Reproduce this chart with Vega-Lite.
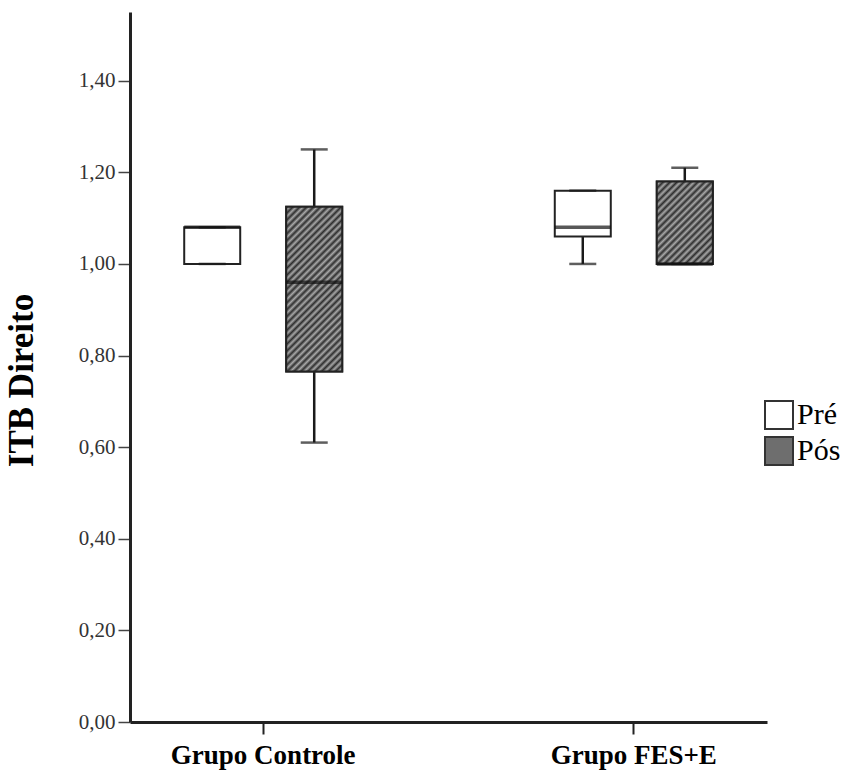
{
  "$schema": "https://vega.github.io/schema/vega-lite/v6.json",
  "width": 637,
  "height": 710,
  "autosize": {"type": "none"},
  "padding": {"left": 130, "top": 12, "right": 83, "bottom": 59},
  "background": "white",
  "config": {"view": {"stroke": null}, "axis": {"grid": false}},
  "data": {
    "values": [
      {"group": "Grupo Controle", "time": "Pré", "min": 1.00, "q1": 1.00, "median": 1.08, "q3": 1.08, "max": 1.08},
      {"group": "Grupo Controle", "time": "Pós", "min": 0.61, "q1": 0.765, "median": 0.96, "q3": 1.125, "max": 1.25},
      {"group": "Grupo FES+E", "time": "Pré", "min": 1.00, "q1": 1.06, "median": 1.08, "q3": 1.16, "max": 1.16},
      {"group": "Grupo FES+E", "time": "Pós", "min": 1.00, "q1": 1.00, "median": 1.00, "q3": 1.18, "max": 1.21}
    ]
  },
  "encoding": {
    "x": {
      "field": "group", "type": "nominal",
      "scale": {"domain": ["Grupo Controle", "Grupo FES+E"], "paddingInner": 0.281, "paddingOuter": 0},
      "axis": {
        "title": null, "labelAngle": 0, "labelLimit": 400,
        "labelFont": "Liberation Serif", "labelFontWeight": "bold", "labelFontSize": 27, "labelColor": "#000",
        "labelPadding": 8, "tickSize": 12, "tickWidth": 2, "tickColor": "#222",
        "domainColor": "#222", "domainWidth": 3
      }
    },
    "xOffset": {
      "field": "time", "type": "nominal",
      "scale": {"domain": ["Pré", "Pós"], "paddingInner": 0.451, "paddingOuter": 0.5315}
    }
  },
  "layer": [
    {
      "mark": {"type": "rule", "color": "#1a1a1a", "strokeWidth": 2.5},
      "encoding": {
        "y": {
          "field": "min", "type": "quantitative",
          "scale": {"domain": [0, 1.55], "nice": false, "zero": true},
          "axis": {
            "title": "ITB Direito",
            "values": [0, 0.2, 0.4, 0.6, 0.8, 1.0, 1.2, 1.4],
            "labelExpr": "replace(format(datum.value, '.2f'), '.', ',')",
            "labelFont": "Liberation Serif", "labelFontSize": 21, "labelColor": "#333",
            "labelPadding": 3, "tickSize": 12, "tickWidth": 1.5, "tickColor": "#444",
            "domainColor": "#222", "domainWidth": 3,
            "titleFont": "Liberation Serif", "titleFontWeight": "bold", "titleFontSize": 35, "titleColor": "#000",
            "titleAngle": -90, "titleX": -109, "titleY": 368, "titleAlign": "center", "titleBaseline": "middle"
          }
        },
        "y2": {"field": "max"}
      }
    },
    {
      "mark": {"type": "bar", "stroke": "#222", "strokeWidth": 2},
      "encoding": {
        "y": {"field": "q1", "type": "quantitative"},
        "y2": {"field": "q3"},
        "fill": {
          "field": "time", "type": "nominal",
          "scale": {"domain": ["Pré", "Pós"], "range": ["#ffffff", "#6e6e6e"]},
          "legend": {
            "title": null, "orient": "none", "legendX": 634, "legendY": 388, "padding": 0,
            "symbolType": "square", "symbolSize": 784, "symbolStrokeColor": "#333", "symbolStrokeWidth": 2,
            "labelFont": "Liberation Serif", "labelFontSize": 30, "labelColor": "#000",
            "labelOffset": 3, "rowPadding": 0,
            "encode": {
              "symbols": {
                "update": {
                  "stroke": {"value": "#333"},
                  "strokeWidth": {"value": 2}
                }
              }
            }
          }
        }
      }
    },
    {
      "transform": [{"filter": "datum.time === 'Pós'"}],
      "mark": {"type": "bar", "stroke": "#222", "strokeWidth": 2},
      "encoding": {
        "y": {"field": "q1", "type": "quantitative"},
        "y2": {"field": "q3"},
        "fill": {
          "condition": {
            "test": "datum.group === 'Grupo Controle'",
            "value": {"gradient": "linear", "x1": 0, "y1": 0, "x2": 0.4077, "y2": 1.201, "stops": [
              {"offset": 0, "color": "#2e2e2e"}, {"offset": 0.015625, "color": "#a8a8a8"},
              {"offset": 0.03125, "color": "#2e2e2e"}, {"offset": 0.046875, "color": "#a8a8a8"},
              {"offset": 0.0625, "color": "#2e2e2e"}, {"offset": 0.078125, "color": "#a8a8a8"},
              {"offset": 0.09375, "color": "#2e2e2e"}, {"offset": 0.109375, "color": "#a8a8a8"},
              {"offset": 0.125, "color": "#2e2e2e"}, {"offset": 0.140625, "color": "#a8a8a8"},
              {"offset": 0.15625, "color": "#2e2e2e"}, {"offset": 0.171875, "color": "#a8a8a8"},
              {"offset": 0.1875, "color": "#2e2e2e"}, {"offset": 0.203125, "color": "#a8a8a8"},
              {"offset": 0.21875, "color": "#2e2e2e"}, {"offset": 0.234375, "color": "#a8a8a8"},
              {"offset": 0.25, "color": "#2e2e2e"}, {"offset": 0.265625, "color": "#a8a8a8"},
              {"offset": 0.28125, "color": "#2e2e2e"}, {"offset": 0.296875, "color": "#a8a8a8"},
              {"offset": 0.3125, "color": "#2e2e2e"}, {"offset": 0.328125, "color": "#a8a8a8"},
              {"offset": 0.34375, "color": "#2e2e2e"}, {"offset": 0.359375, "color": "#a8a8a8"},
              {"offset": 0.375, "color": "#2e2e2e"}, {"offset": 0.390625, "color": "#a8a8a8"},
              {"offset": 0.40625, "color": "#2e2e2e"}, {"offset": 0.421875, "color": "#a8a8a8"},
              {"offset": 0.4375, "color": "#2e2e2e"}, {"offset": 0.453125, "color": "#a8a8a8"},
              {"offset": 0.46875, "color": "#2e2e2e"}, {"offset": 0.484375, "color": "#a8a8a8"},
              {"offset": 0.5, "color": "#2e2e2e"}, {"offset": 0.515625, "color": "#a8a8a8"},
              {"offset": 0.53125, "color": "#2e2e2e"}, {"offset": 0.546875, "color": "#a8a8a8"},
              {"offset": 0.5625, "color": "#2e2e2e"}, {"offset": 0.578125, "color": "#a8a8a8"},
              {"offset": 0.59375, "color": "#2e2e2e"}, {"offset": 0.609375, "color": "#a8a8a8"},
              {"offset": 0.625, "color": "#2e2e2e"}, {"offset": 0.640625, "color": "#a8a8a8"},
              {"offset": 0.65625, "color": "#2e2e2e"}, {"offset": 0.671875, "color": "#a8a8a8"},
              {"offset": 0.6875, "color": "#2e2e2e"}, {"offset": 0.703125, "color": "#a8a8a8"},
              {"offset": 0.71875, "color": "#2e2e2e"}, {"offset": 0.734375, "color": "#a8a8a8"},
              {"offset": 0.75, "color": "#2e2e2e"}, {"offset": 0.765625, "color": "#a8a8a8"},
              {"offset": 0.78125, "color": "#2e2e2e"}, {"offset": 0.796875, "color": "#a8a8a8"},
              {"offset": 0.8125, "color": "#2e2e2e"}, {"offset": 0.828125, "color": "#a8a8a8"},
              {"offset": 0.84375, "color": "#2e2e2e"}, {"offset": 0.859375, "color": "#a8a8a8"},
              {"offset": 0.875, "color": "#2e2e2e"}, {"offset": 0.890625, "color": "#a8a8a8"},
              {"offset": 0.90625, "color": "#2e2e2e"}, {"offset": 0.921875, "color": "#a8a8a8"},
              {"offset": 0.9375, "color": "#2e2e2e"}, {"offset": 0.953125, "color": "#a8a8a8"},
              {"offset": 0.96875, "color": "#2e2e2e"}, {"offset": 0.984375, "color": "#a8a8a8"},
              {"offset": 1, "color": "#2e2e2e"}
            ]}
          },
          "value": {"gradient": "linear", "x1": 0, "y1": 0, "x2": 0.781, "y2": 1.149, "stops": [
            {"offset": 0, "color": "#2e2e2e"}, {"offset": 0.025, "color": "#a8a8a8"},
            {"offset": 0.05, "color": "#2e2e2e"}, {"offset": 0.075, "color": "#a8a8a8"},
            {"offset": 0.1, "color": "#2e2e2e"}, {"offset": 0.125, "color": "#a8a8a8"},
            {"offset": 0.15, "color": "#2e2e2e"}, {"offset": 0.175, "color": "#a8a8a8"},
            {"offset": 0.2, "color": "#2e2e2e"}, {"offset": 0.225, "color": "#a8a8a8"},
            {"offset": 0.25, "color": "#2e2e2e"}, {"offset": 0.275, "color": "#a8a8a8"},
            {"offset": 0.3, "color": "#2e2e2e"}, {"offset": 0.325, "color": "#a8a8a8"},
            {"offset": 0.35, "color": "#2e2e2e"}, {"offset": 0.375, "color": "#a8a8a8"},
            {"offset": 0.4, "color": "#2e2e2e"}, {"offset": 0.425, "color": "#a8a8a8"},
            {"offset": 0.45, "color": "#2e2e2e"}, {"offset": 0.475, "color": "#a8a8a8"},
            {"offset": 0.5, "color": "#2e2e2e"}, {"offset": 0.525, "color": "#a8a8a8"},
            {"offset": 0.55, "color": "#2e2e2e"}, {"offset": 0.575, "color": "#a8a8a8"},
            {"offset": 0.6, "color": "#2e2e2e"}, {"offset": 0.625, "color": "#a8a8a8"},
            {"offset": 0.65, "color": "#2e2e2e"}, {"offset": 0.675, "color": "#a8a8a8"},
            {"offset": 0.7, "color": "#2e2e2e"}, {"offset": 0.725, "color": "#a8a8a8"},
            {"offset": 0.75, "color": "#2e2e2e"}, {"offset": 0.775, "color": "#a8a8a8"},
            {"offset": 0.8, "color": "#2e2e2e"}, {"offset": 0.825, "color": "#a8a8a8"},
            {"offset": 0.85, "color": "#2e2e2e"}, {"offset": 0.875, "color": "#a8a8a8"},
            {"offset": 0.9, "color": "#2e2e2e"}, {"offset": 0.925, "color": "#a8a8a8"},
            {"offset": 0.95, "color": "#2e2e2e"}, {"offset": 0.975, "color": "#a8a8a8"},
            {"offset": 1, "color": "#2e2e2e"}
          ]}
        }
      }
    },
    {
      "mark": {"type": "tick", "color": "#1a1a1a", "thickness": 2.5, "size": 27},
      "encoding": {"y": {"field": "min", "type": "quantitative"}}
    },
    {
      "mark": {"type": "tick", "color": "#1a1a1a", "thickness": 2.5, "size": 27},
      "encoding": {"y": {"field": "max", "type": "quantitative"}}
    },
    {
      "mark": {"type": "tick", "color": "#111", "thickness": 3.5, "size": 56},
      "encoding": {"y": {"field": "median", "type": "quantitative"}}
    }
  ]
}
